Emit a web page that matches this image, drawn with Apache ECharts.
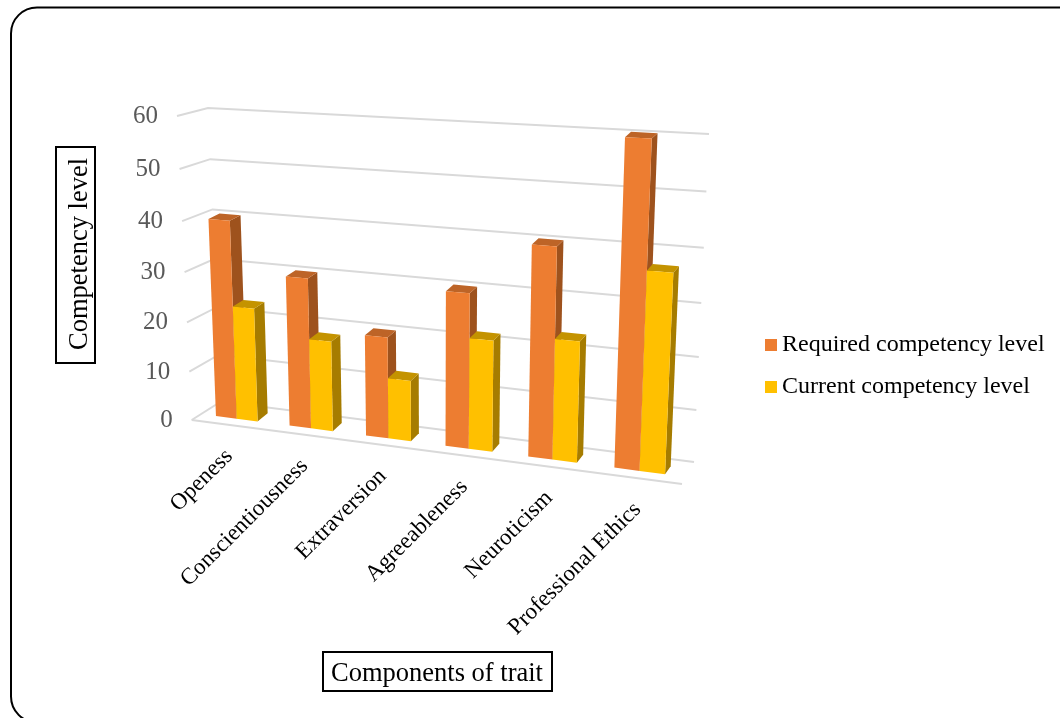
<!DOCTYPE html>
<html>
<head>
<meta charset="utf-8">
<title>Competency levels by trait</title>
<script src="https://cdn.jsdelivr.net/npm/echarts@6/dist/echarts.min.js"></script>
<style>
html,body{margin:0;padding:0;background:#fff}
#chart{width:1060px;height:718px}
</style>
</head>
<body>
<div id="chart"></div>
<script>
// Chart data
const categories = ['Openess', 'Conscientiousness', 'Extraversion', 'Agreeableness', 'Neuroticism', 'Professional Ethics'];
const requiredLevel = [40, 30, 20, 30, 40, 60];
const currentLevel = [23, 18, 12, 21.5, 23, 37];
const levelTicks = [0, 10, 20, 30, 40, 50, 60];

const SERIF = '"Liberation Serif", "Times New Roman", serif';

// The value and category axes live on a flat hidden grid; each plane of the
// 3-D box is a perspective warp of that grid.
const GRID = { left: 100, top: 100, width: 600, height: 300 };

function makeWarp(bl, br, tr, tl) {
  const [x0, y0] = bl, [x1, y1] = br, [x2, y2] = tr, [x3, y3] = tl;
  const sx = x0 - x1 + x2 - x3, sy = y0 - y1 + y2 - y3;
  const dx1 = x1 - x2, dx2 = x3 - x2, dy1 = y1 - y2, dy2 = y3 - y2;
  const den = dx1 * dy2 - dx2 * dy1;
  const g = (sx * dy2 - dx2 * sy) / den, h = (dx1 * sy - sx * dy1) / den;
  const a = x1 - x0 + g * x1, b = x3 - x0 + h * x3;
  const d = y1 - y0 + g * y1, e = y3 - y0 + h * y3;
  return function (p) {
    const u = (p[0] - GRID.left) / GRID.width;
    const v = (GRID.top + GRID.height - p[1]) / GRID.height;
    const w = g * u + h * v + 1;
    return [(a * u + b * v + x0) / w, (d * u + e * v + y0) / w];
  };
}

// Planes of the box: wall edge nearest the viewer, back wall, bar fronts, bar backs
const frontEdge = makeWarp([191.7, 420], [682, 484], [697, 143], [177, 116]);
const backWall = makeWarp([221, 401.5], [694, 462], [709, 134], [208, 108]);
const barFront = makeWarp([200.5, 414], [684.5, 476.7], [699.5, 141], [188.3, 114.5]);
const barBack = makeWarp([211.5, 406], [690, 468.7], [705, 135.5], [199.8, 110.5]);

const BAR_SHARE = 0.285;

function polygon(points, color) {
  return { type: 'polygon', shape: { points }, style: { fill: color, stroke: null } };
}

function renderBar(seriesOffset, colors) {
  return function (params, api) {
    const idx = api.value(0), val = api.value(1);
    const band = api.size([1, 0])[0];
    const base = api.coord([idx, 0]), top = api.coord([idx, val]);
    const x0 = base[0] + seriesOffset * band * BAR_SHARE;
    const x1 = x0 + band * BAR_SHARE;
    const fbl = barFront([x0, base[1]]), fbr = barFront([x1, base[1]]);
    const ftl = barFront([x0, top[1]]), ftr = barFront([x1, top[1]]);
    const bbr = barBack([x1, base[1]]);
    const btl = barBack([x0, top[1]]), btr = barBack([x1, top[1]]);
    return {
      type: 'group',
      children: [
        polygon([fbr, bbr, btr, ftr], colors.side),
        polygon([ftl, ftr, btr, btl], colors.top),
        polygon([fbl, fbr, ftr, ftl], colors.front)
      ]
    };
  };
}

function renderGridLine(params, api) {
  const level = api.value(0);
  const band = api.size([1, 0])[0];
  const first = api.coord([0, level]), last = api.coord([categories.length - 1, level]);
  const start = [first[0] - band / 2, first[1]], end = [last[0] + band / 2, last[1]];
  const a = frontEdge(start), b = backWall(start), c = backWall(end);
  const children = [{
    type: 'polyline',
    shape: { points: [a, b, c] },
    style: { stroke: '#d9d9d9', lineWidth: 2, fill: null }
  }, {
    type: 'text',
    x: a[0] - 19, y: a[1] + 0.5,
    style: {
      text: String(level), font: '25px ' + SERIF, fill: '#595959',
      align: 'right', verticalAlign: 'middle'
    }
  }];
  if (level === 0) {
    children.push({
      type: 'line',
      shape: { x1: a[0], y1: a[1], x2: frontEdge(end)[0], y2: frontEdge(end)[1] },
      style: { stroke: '#d9d9d9', lineWidth: 2 }
    });
  }
  return { type: 'group', children };
}

function renderCategoryLabel(params, api) {
  const idx = api.value(0);
  const p = frontEdge(api.coord([idx, 0]));
  return {
    type: 'text',
    x: p[0] + 1, y: p[1] + 28,
    rotation: Math.PI / 4,
    style: {
      text: categories[idx], font: '23px ' + SERIF, fill: '#000',
      align: 'right', verticalAlign: 'middle'
    }
  };
}

const chart = echarts.init(document.getElementById('chart'), null, { renderer: 'canvas' });
chart.setOption({
  animation: false,
  backgroundColor: '#fff',
  grid: GRID,
  xAxis: { type: 'category', data: categories, show: false },
  yAxis: { type: 'value', min: 0, max: 60, interval: 10, show: false },
  legend: {
    data: ['Required competency level', 'Current competency level'],
    orient: 'vertical',
    left: 765,
    top: 333,
    padding: 0,
    itemWidth: 12,
    itemHeight: 12,
    itemGap: 18,
    icon: 'rect',
    textStyle: { fontFamily: SERIF, fontSize: 24, color: '#000' }
  },
  series: [
    {
      name: 'gridlines', type: 'custom', z: 1, silent: true, clip: false,
      encode: { y: 0 },
      data: levelTicks.map(t => [t]),
      renderItem: renderGridLine
    },
    {
      name: 'Required competency level', type: 'custom', z: 2, clip: false,
      itemStyle: { color: '#ed7d31' },
      encode: { x: 0, y: 1 },
      data: requiredLevel.map((v, i) => [i, v]),
      renderItem: renderBar(-1, { front: '#ed7d31', side: '#9e521d', top: '#bd6427' })
    },
    {
      name: 'Current competency level', type: 'custom', z: 3, clip: false,
      itemStyle: { color: '#ffc000' },
      encode: { x: 0, y: 1 },
      data: currentLevel.map((v, i) => [i, v]),
      renderItem: renderBar(0, { front: '#ffc000', side: '#a67c00', top: '#c49300' })
    },
    {
      name: 'category labels', type: 'custom', z: 4, silent: true, clip: false,
      encode: { x: 0 },
      data: categories.map((c, i) => [i]),
      renderItem: renderCategoryLabel
    }
  ],
  graphic: [
    // Rounded outer frame, running off the right and bottom edges of the page
    { type: 'rect', silent: true, z: 0,
      shape: { x: 11, y: 7.5, width: 1100, height: 715, r: 26 },
      style: { fill: 'none', stroke: '#000', lineWidth: 2 } },
    // Boxed axis titles
    { type: 'rect', silent: true, shape: { x: 56, y: 147, width: 39, height: 216 },
      style: { fill: '#fff', stroke: '#000', lineWidth: 2 } },
    { type: 'text', silent: true, x: 80.5, y: 254, rotation: Math.PI / 2,
      style: { text: 'Competency level', font: '26.5px ' + SERIF, fill: '#000',
               align: 'center', verticalAlign: 'middle' } },
    { type: 'rect', silent: true, shape: { x: 323, y: 652, width: 229, height: 39 },
      style: { fill: '#fff', stroke: '#000', lineWidth: 2 } },
    { type: 'text', silent: true, x: 437, y: 674,
      style: { text: 'Components of trait', font: '26.5px ' + SERIF, fill: '#000',
               align: 'center', verticalAlign: 'middle' } }
  ]
});
</script>
</body>
</html>
